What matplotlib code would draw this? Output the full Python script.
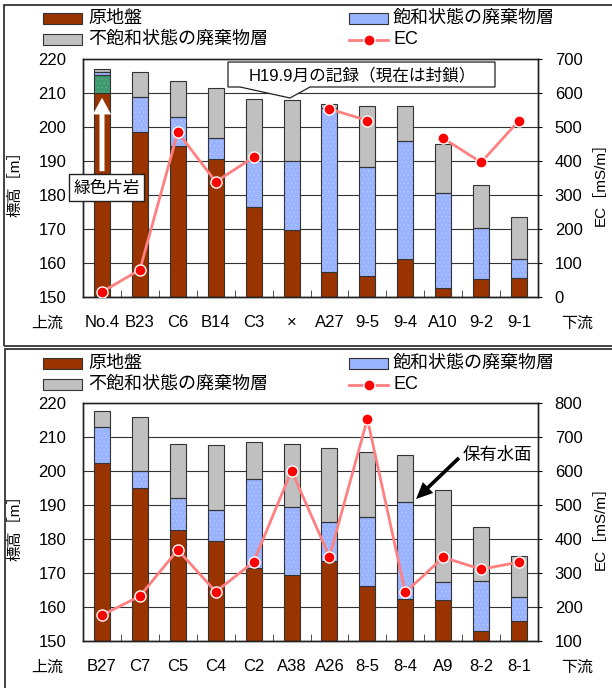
import numpy as np
import matplotlib
matplotlib.use("Agg")
import matplotlib.pyplot as plt
from matplotlib.patches import Rectangle, Polygon
from matplotlib.lines import Line2D

plt.rcParams['font.family'] = ['Liberation Sans', 'Noto Sans CJK JP', 'DejaVu Sans']
plt.rcParams['hatch.linewidth'] = 0.5

# ---- data (top panel) ----
labels1 = ["No.4", "B23", "C6", "B14", "C3", "×", "A27", "9-5", "9-4", "A10", "9-2", "9-1"]
ground1 = [210.0, 198.4, 194.4, 190.5, 176.4, 169.7, 157.4, 156.2, 161.1, 152.6, 155.2, 155.5]
schist1 = [215.3, np.nan, np.nan, np.nan, np.nan, np.nan, np.nan, np.nan, np.nan, np.nan, np.nan, np.nan]
sat1    = [216.2, 208.7, 202.8, 196.7, 190.0, 190.1, 205.5, 188.1, 195.9, 180.7, 170.2, 161.1]
unsat1  = [217.0, 216.1, 213.4, 211.6, 208.1, 207.9, 206.7, 206.3, 206.3, 194.9, 182.9, 173.6]
ec1     = [15, 80, 485, 339, 411, np.nan, 553, 519, np.nan, 467, 396, 519]

# ---- data (bottom panel) ----
labels2 = ["B27", "C7", "C5", "C4", "C2", "A38", "A26", "8-5", "8-4", "A9", "8-2", "8-1"]
ground2 = [202.5, 195.0, 182.7, 179.4, 171.4, 169.5, 173.6, 166.3, 162.5, 162.1, 153.0, 155.9]
sat2    = [212.8, 199.9, 192.0, 188.4, 197.6, 189.5, 185.0, 186.4, 191.0, 167.5, 167.7, 162.9]
unsat2  = [217.7, 215.8, 208.0, 207.7, 208.5, 208.0, 206.7, 205.5, 204.6, 194.5, 183.5, 175.0]
ec2     = [176, 232, 368, 245, 332, 601, 348, 753, 243, 346, 311, 332]

BROWN = "#993300"
BLUE = "#99b3ff"
BLUE_DOT = "#b6c8ff"
GREY = "#c0c0c0"
GREEN = "#3f9a70"
EDGE = "#333333"
EC_LINE = "#ff8080"
EC_MARK = "#ff0000"

W, H = 612, 688
fig = plt.figure(figsize=(W / 100, H / 100), dpi=100)


def fx(x):
    return x / W


def fy(y):
    return 1 - y / H


def seg(ax, x, bottom, top, color, w, hatch=None, hatch_color=None):
    bottom = np.asarray(bottom, float)
    top = np.asarray(top, float)
    h = top - bottom
    if hatch:
        ax.bar(x, h, bottom=bottom, width=w, color=color, edgecolor=hatch_color,
               hatch=hatch, lw=0, zorder=2)
        ax.bar(x, h, bottom=bottom, width=w, fill=False, edgecolor=EDGE, lw=0.8, zorder=3)
    else:
        ax.bar(x, h, bottom=bottom, width=w, color=color, edgecolor=EDGE, lw=0.8, zorder=2)


def panel(top_px, labels, ground, schist, sat, unsat, ec, ec_lim, offset):
    ax = fig.add_axes([fx(83), fy(top_px + 238), fx(538) - fx(83), 238 / H])
    x = np.arange(len(labels))
    w = 0.42
    ground = np.asarray(ground, float)
    schist = np.asarray(schist, float)
    sat = np.asarray(sat, float)
    unsat = np.asarray(unsat, float)

    seg(ax, x, np.full(len(x), 150.0), ground, BROWN, w)
    has_s = ~np.isnan(schist)
    if has_s.any():
        seg(ax, x[has_s], ground[has_s], schist[has_s], GREEN, w, hatch="....", hatch_color="#5cb088")
    sat_bot = np.where(has_s, schist, ground)
    seg(ax, x, sat_bot, sat, BLUE, w, hatch="....", hatch_color=BLUE_DOT)
    seg(ax, x, sat, unsat, GREY, w)

    ax.set_xlim(-0.5, len(x) - 0.5)
    ax.set_ylim(150, 220)
    ax.set_yticks(np.arange(150, 221, 10))
    ax.yaxis.grid(True, color="#333333", lw=0.8)
    ax.set_axisbelow(True)
    ax.set_xticks(x)
    ax.set_xticklabels(labels)
    ax.set_xticks(np.arange(0.5, len(x) - 1, 1), minor=True)
    ax.tick_params(axis="x", which="major", length=0, pad=13, labelsize=12)
    ax.tick_params(axis="x", which="minor", direction="in", length=5, color="#333333")
    ax.tick_params(axis="y", length=0, pad=12, labelsize=12)
    for s in ax.spines.values():
        s.set_color("#222222")
        s.set_linewidth(1.0)
    ax.spines["top"].set_color("#555555")

    ax2 = ax.twinx()
    ax2.plot(x, ec, color=EC_LINE, lw=2, marker="o", ms=8, mfc=EC_MARK,
             mec="white", mew=1, zorder=5)
    ax2.set_ylim(*ec_lim)
    ax2.set_yticks(np.arange(ec_lim[0], ec_lim[1] + 1, 100))
    ax2.tick_params(axis="y", length=3, pad=9, labelsize=12)
    for s in ax2.spines.values():
        s.set_color("#222222")
        s.set_linewidth(1.0)

    ty = top_px + 264
    fig.text(fx(47), fy(ty), "上流", ha="center", va="center", fontsize=11.5)
    fig.text(fx(577), fy(ty), "下流", ha="center", va="center", fontsize=11.5)
    fig.text(fx(15), fy(top_px + 121), "標高［m］", ha="center", va="center",
             rotation=90, fontsize=11)
    fig.text(fx(601), fy(top_px + 121), "EC［mS/m］", ha="center", va="center",
             rotation=90, fontsize=11)

    # legend
    r1, r2 = 18.5 + offset, 39.5 + offset
    fig.add_artist(Rectangle((fx(43), fy(r1 + 5.5)), fx(82) - fx(43), 11 / H,
                             fc=BROWN, ec=EDGE, lw=0.8, transform=fig.transFigure))
    fig.text(fx(88), fy(r1), "原地盤", va="center", fontsize=13)
    fig.add_artist(Rectangle((fx(43), fy(r2 + 5.5)), fx(82) - fx(43), 11 / H,
                             fc=GREY, ec=EDGE, lw=0.8, transform=fig.transFigure))
    fig.text(fx(88), fy(r2), "不飽和状態の廃棄物層", va="center", fontsize=13)
    fig.add_artist(Rectangle((fx(349), fy(r1 + 5.5)), fx(388) - fx(349), 11 / H,
                             fc=BLUE, ec=EDGE, lw=0.8, transform=fig.transFigure))
    fig.text(fx(393), fy(r1), "飽和状態の廃棄物層", va="center", fontsize=13)
    fig.add_artist(Line2D([fx(349), fx(388)], [fy(r2), fy(r2)], color=EC_LINE, lw=2,
                          transform=fig.transFigure))
    fig.add_artist(Line2D([fx(368.5)], [fy(r2)], marker="o", ms=8, mfc=EC_MARK,
                          mec="white", mew=1, transform=fig.transFigure))
    fig.text(fx(393), fy(r2), "EC", va="center", fontsize=13)
    return ax, ax2


ax_a, ax_a2 = panel(59, labels1, ground1, schist1, sat1, unsat1, ec1, (0, 700), 0)
ax_b, ax_b2 = panel(403, labels2, ground2, [np.nan] * 12, sat2, unsat2, ec2, (100, 800), 345)

# outer frames
fig.add_artist(Rectangle((fx(4), fy(346)), fx(640) - fx(4), fy(5) - fy(346), fill=False,
                         ec="#222222", lw=1.2, transform=fig.transFigure))
fig.add_artist(Rectangle((fx(5), fy(700)), fx(640) - fx(5), fy(349) - fy(700), fill=False,
                         ec="#222222", lw=1.2, transform=fig.transFigure))

# callout: H19.9 record
call = [(228, 62), (495, 62), (495, 87), (310, 87), (290, 98), (240, 87), (228, 87)]
fig.add_artist(Polygon([(fx(a), fy(b)) for a, b in call], closed=True, fc="white",
                       ec="#222222", lw=0.9, transform=fig.transFigure))
fig.text(fx(362), fy(75), "H19.9月の記録（現在は封鎖）", ha="center", va="center", fontsize=12)

# green schist label with white arrow
fig.add_artist(Rectangle((fx(69), fy(201)), fx(144) - fx(69), 27 / H, fc="white",
                         ec="#222222", lw=1.0, transform=fig.transFigure))
fig.text(fx(106.5), fy(188), "緑色片岩", ha="center", va="center", fontsize=12)
ax_a2.annotate("", xy=(102, H - 95), xytext=(102, H - 174), xycoords="figure pixels",
               textcoords="figure pixels", annotation_clip=False,
               arrowprops=dict(arrowstyle="simple,head_length=1.0,head_width=1.1,tail_width=0.3",
                               fc="white", ec="none", mutation_scale=12))

# retained water level
fig.text(fx(463), fy(455), "保有水面", ha="left", va="center", fontsize=12.5)
ax_b2.annotate("", xy=(414, H - 501), xytext=(461, H - 456), xycoords="figure pixels",
               textcoords="figure pixels", annotation_clip=False,
               arrowprops=dict(arrowstyle="simple,head_length=1.0,head_width=0.9,tail_width=0.22",
                               fc="black", ec="none", mutation_scale=12))

fig.savefig("out.png", dpi=100)
